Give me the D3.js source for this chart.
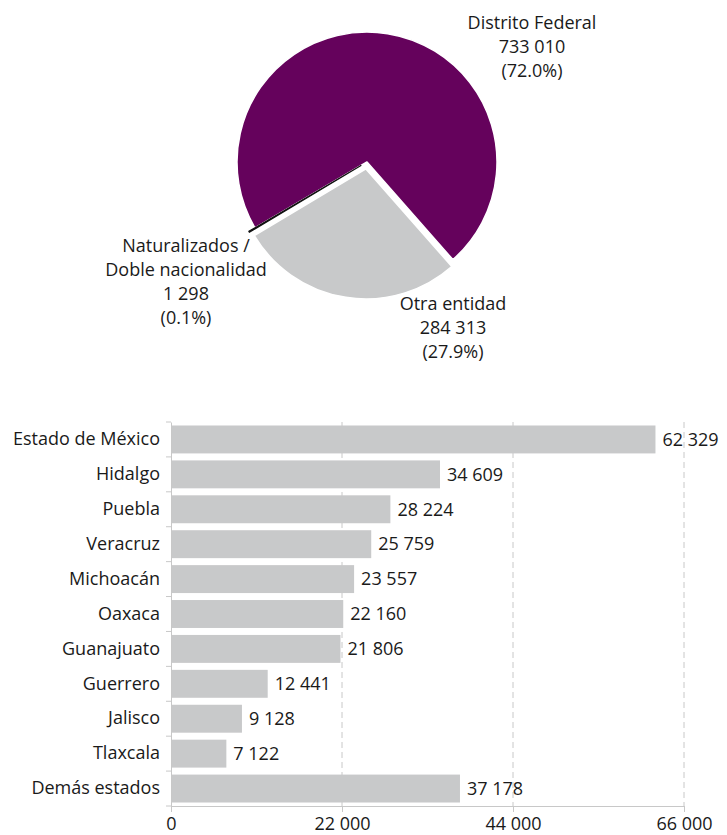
<!DOCTYPE html>
<html><head><meta charset="utf-8">
<script src="https://cdn.jsdelivr.net/npm/d3@7/dist/d3.min.js"></script>
<style>
body{margin:0;background:#fff;}
text{font-family:"Open Sans",sans-serif;fill:#1a1a1a;}
</style></head>
<body>
<svg id="c" width="727" height="835"></svg>
<script>
// Pie data
const pieNames = ["Distrito Federal", "Otra entidad", "Naturalizados / Doble nacionalidad"];
const pieValues = [733010, 284313, 1298];
const piePct = ["72.0%", "27.9%", "0.1%"];
const pieValueLabels = ["733 010", "284 313", "1 298"];
const pieColors = ["#65025c", "#c8c9ca", "#111111"];

// Bar data
const barCategories = ["Estado de México","Hidalgo","Puebla","Veracruz","Michoacán","Oaxaca","Guanajuato","Guerrero","Jalisco","Tlaxcala","Demás estados"];
const barValues = [62329,34609,28224,25759,23557,22160,21806,12441,9128,7122,37178];
const barValueLabels = ["62 329","34 609","28 224","25 759","23 557","22 160","21 806","12 441","9 128","7 122","37 178"];
const xTicks = [0,22000,44000,66000];
const xTickLabels = ["0","22 000","44 000","66 000"];

(function(){
const svg = d3.select("#c");

// ---- Pie ----
const cx = 367, cy = 162, R = 130;
const start = -120.4 * Math.PI / 180;
const pie = d3.pie().sort(null).value(d => d).startAngle(start).endAngle(start + 2*Math.PI);
const arcs = pie(pieValues);
const arc = d3.arc().innerRadius(0).outerRadius(R);
const explode = [0, 7, 7];
const pg = svg.append("g").attr("transform", `translate(${cx},${cy})`);
pg.selectAll("path").data(arcs).join("path")
  .attr("d", arc)
  .attr("transform", (d,i) => {
    const a = (d.startAngle + d.endAngle)/2;
    return `translate(${Math.sin(a)*explode[i]},${-Math.cos(a)*explode[i]})`;
  })
  .attr("fill", (d,i) => pieColors[i])
  .attr("stroke", (d,i) => i === 2 ? "#111" : "#fff")
  .attr("stroke-width", (d,i) => i === 2 ? 1.2 : 1.5)
  .attr("stroke-linejoin", "round");

const pieLabels = [
  {x: 532, y: 29, lines: ["Distrito Federal", pieValueLabels[0], "(" + piePct[0] + ")"]},
  {x: 453, y: 310, lines: ["Otra entidad", pieValueLabels[1], "(" + piePct[1] + ")"]},
  {x: 186, y: 252, lines: ["Naturalizados /", "Doble nacionalidad", pieValueLabels[2], "(" + piePct[2] + ")"]}
];
pieLabels.forEach(l => {
  const t = svg.append("text").attr("text-anchor","middle").attr("font-size", 18);
  l.lines.forEach((s,i) => t.append("tspan").attr("x", l.x).attr("y", l.y + i*24).text(s));
});

// ---- Bars ----
const L = 171, Rt = 684, T = 422, B = 806;
const x = d3.scaleLinear().domain([0,66000]).range([L,Rt]);
const y = d3.scaleBand().domain(barCategories).range([T,B]).paddingInner(0.2).paddingOuter(0.1);

svg.append("g").selectAll("line").data(xTicks.slice(1)).join("line")
  .attr("x1", d => x(d)).attr("x2", d => x(d))
  .attr("y1", T).attr("y2", B)
  .attr("stroke", "#c8c8c8").attr("stroke-width", 1).attr("stroke-dasharray", "6,4");

svg.append("g").selectAll("rect").data(barValues).join("rect")
  .attr("x", x(0)+1).attr("y", (d,i) => y(barCategories[i]))
  .attr("width", d => x(d) - x(0) - 1).attr("height", y.bandwidth())
  .attr("fill", "#c8c9ca");

svg.append("g").selectAll("text").data(barValues).join("text")
  .attr("x", d => x(d) + 7).attr("y", (d,i) => y(barCategories[i]) + y.bandwidth()/2)
  .attr("dy", "0.35em").attr("font-size", 18)
  .text((d,i) => barValueLabels[i]);

const yAxisBand = d3.scaleBand().domain(barCategories).range([T,B]);
const ya = svg.append("g").attr("transform", `translate(${L},0)`)
  .call(d3.axisLeft(yAxisBand).tickSize(0).tickPadding(11));
ya.select(".domain").attr("stroke", "#c8c8c8");
ya.selectAll("text").attr("font-size", 18).attr("font-family", "Open Sans").attr("fill", "#1a1a1a");
svg.append("g").selectAll("line").data(d3.range(barCategories.length+1)).join("line")
  .attr("x1", L-5).attr("x2", L)
  .attr("y1", i => T + i*yAxisBand.step()).attr("y2", i => T + i*yAxisBand.step())
  .attr("stroke", "#c8c8c8");

const xa = svg.append("g").attr("transform", `translate(0,${B})`)
  .call(d3.axisBottom(x).tickValues(xTicks).tickFormat((d,i) => xTickLabels[i]).tickSize(6).tickPadding(5).tickSizeOuter(0));
xa.select(".domain").attr("stroke", "#c8c8c8");
xa.selectAll("line").attr("stroke", "#c8c8c8");
xa.selectAll("text").attr("font-size", 18).attr("font-family", "Open Sans").attr("fill", "#1a1a1a");
})();
</script>
</body></html>
